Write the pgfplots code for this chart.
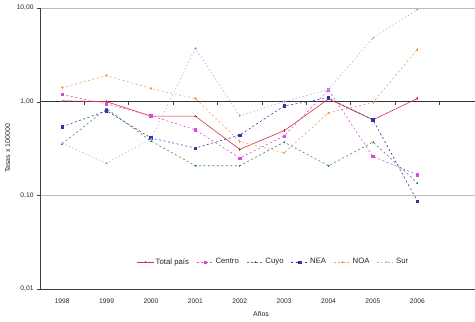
\documentclass[border=0pt]{standalone}
\usepackage{pgfplots}
\pgfplotsset{compat=1.18}
\usepackage{fontspec}
\setmainfont{Liberation Sans}
\definecolor{ctot}{RGB}{210,50,60}
\definecolor{ccen}{RGB}{225,70,225}
\definecolor{ccuy}{RGB}{60,140,100}
\definecolor{cnea}{RGB}{50,50,170}
\definecolor{cnoa}{RGB}{240,160,80}
\definecolor{csur}{RGB}{175,160,225}
\begin{document}
\begin{tikzpicture}
\begin{axis}[
  scale only axis, width=435bp, height=281bp,
  ymode=log, ymin=0.01, ymax=10,
  xmin=-0.5, xmax=9.3,
  xtick={0,...,8}, xticklabels={1998,1999,2000,2001,2002,2003,2004,2005,2006},
  x tick style={draw=none},
  ytick={0.01,0.1,1,10}, yticklabels={{0,01},{0,10},{1,00},{10,00}},
  yminorticks=false,
  ymajorgrids, major grid style={gray!55, line width=0.6pt},
  axis x line=bottom, axis y line=left, axis line style={-, black!75, line width=0.7pt},
  y tick style={black!75}, tick align=outside, major tick length=3bp,
  tick label style={font=\fontsize{6.7}{8}\selectfont, text=black!85},
  xticklabel style={yshift=-3bp},
  ylabel={Tasas x 100000}, xlabel={Años},
  label style={font=\fontsize{7}{8}\selectfont, text=black!85},
  ylabel style={at={(axis description cs:-0.074,0.5)}, anchor=center},
  xlabel style={at={(axis description cs:0.508,-0.09)}, anchor=center},
  legend style={at={(0.536,0.096)}, anchor=center, draw=none, fill=none,
    legend columns=-1, font=\fontsize{7.8}{9}\selectfont, text=black!85,
    /tikz/every even column/.append style={column sep=6pt},
    nodes={inner xsep=1.5pt}},
  every axis plot/.append style={line width=0.6pt, mark size=1.2pt},
]
\addplot[black!80, line width=0.8pt, forget plot] coordinates {(-0.5,1) (9.3,1)};
\addplot[ctot, mark=+] coordinates {(0,1.02) (1,1.0) (2,0.70) (3,0.70) (4,0.31) (5,0.49) (6,1.07) (7,0.64) (8,1.08)};
\addlegendentry{Total país}
\addplot[ccen, dash pattern=on 2pt off 2.5pt, mark=square*, mark options={solid}] coordinates {(0,1.19) (1,0.95) (2,0.71) (3,0.50) (4,0.25) (5,0.43) (6,1.34) (7,0.26) (8,0.166)};
\addlegendentry{Centro}
\addplot[ccuy, dash pattern=on 2pt off 2.5pt, mark=+, mark options={solid}] coordinates {(0,0.355) (1,0.84) (2,0.38) (3,0.207) (4,0.207) (5,0.37) (6,0.207) (7,0.37) (8,0.136)};
\addlegendentry{Cuyo}
\addplot[cnea, dash pattern=on 2pt off 2.5pt, mark=square*, mark options={solid}] coordinates {(0,0.54) (1,0.80) (2,0.41) (3,0.32) (4,0.44) (5,0.90) (6,1.10) (7,0.64) (8,0.087)};
\addlegendentry{NEA}
\addplot[cnoa, dash pattern=on 2pt off 2.5pt, mark=+, mark options={solid}] coordinates {(0,1.41) (1,1.90) (2,1.38) (3,1.08) (4,0.376) (5,0.285) (6,0.76) (7,0.98) (8,3.6)};
\addlegendentry{NOA}
\addplot[csur, dash pattern=on 1.2pt off 2.5pt, mark=+, mark options={solid}] coordinates {(0,0.36) (1,0.22) (2,0.40) (3,3.7) (4,0.71) (5,1.0) (6,1.35) (7,4.8) (8,9.6)};
\addlegendentry{Sur}
\pgfplotsinvokeforeach{0.5,1.5,...,8.5}{
  \draw[black!75, line width=0.6pt] (axis cs:#1,1) -- ([yshift=-3bp]axis cs:#1,1);
}
\end{axis}
\pgfresetboundingbox
\useasboundingbox ([shift={(-40bp,-33bp)}]current axis.south west) rectangle ([shift={(0bp,8bp)}]current axis.north east);
\end{tikzpicture}
\end{document}
